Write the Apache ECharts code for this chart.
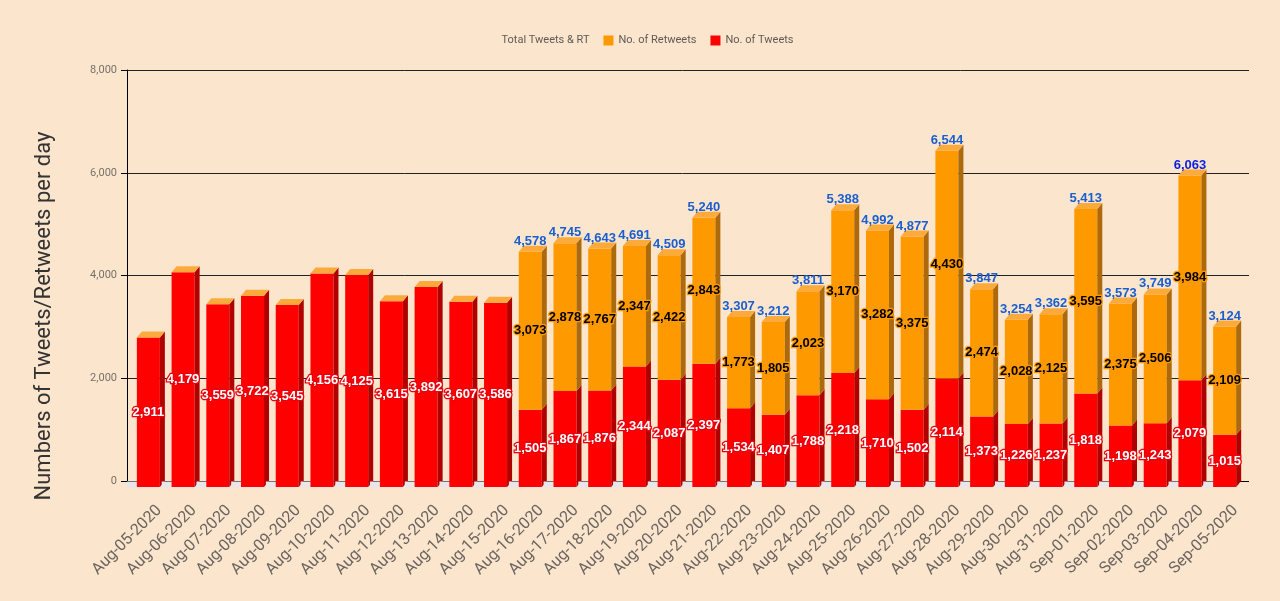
<!DOCTYPE html>
<html>
<head>
<meta charset="utf-8">
<script src="https://cdn.jsdelivr.net/npm/echarts@6/dist/echarts.min.js"></script>
<style>
html,body{margin:0;padding:0;background:#fce5cd;}
#chart{width:1280px;height:601px;}
</style>
</head>
<body>
<div id="chart"></div>
<script>
const categories = ['Aug-05-2020','Aug-06-2020','Aug-07-2020','Aug-08-2020','Aug-09-2020','Aug-10-2020','Aug-11-2020','Aug-12-2020','Aug-13-2020','Aug-14-2020','Aug-15-2020','Aug-16-2020','Aug-17-2020','Aug-18-2020','Aug-19-2020','Aug-20-2020','Aug-21-2020','Aug-22-2020','Aug-23-2020','Aug-24-2020','Aug-25-2020','Aug-26-2020','Aug-27-2020','Aug-28-2020','Aug-29-2020','Aug-30-2020','Aug-31-2020','Sep-01-2020','Sep-02-2020','Sep-03-2020','Sep-04-2020','Sep-05-2020'];
const tweets = [2911,4179,3559,3722,3545,4156,4125,3615,3892,3607,3586,1505,1867,1876,2344,2087,2397,1534,1407,1788,2218,1710,1502,2114,1373,1226,1237,1818,1198,1243,2079,1015];
const retweets = [0,0,0,0,0,0,0,0,0,0,0,3073,2878,2767,2347,2422,2843,1773,1805,2023,3170,3282,3375,4430,2474,2028,2125,3595,2375,2506,3984,2109];
const totals = [null,null,null,null,null,null,null,null,null,null,null,4578,4745,4643,4691,4509,5240,3307,3212,3811,5388,4992,4877,6544,3847,3254,3362,5413,3573,3749,6063,3124];
const yTicks = [0, 2000, 4000, 6000, 8000];
const highlightedTotal = 'Sep-04-2020';

const DX = 5, DY = 6, GRID_EXT = 11;
const RED = '#ff0000', RED_SIDE = '#b00000';
const ORANGE = '#ff9900', ORANGE_SIDE = '#ad6a0c', ORANGE_TOP = '#fcaa3c';
const LABEL_FONT = 'bold 13px "Liberation Sans", Arial, sans-serif';
const XLABEL_FONT = '16px Roboto';
const XLABEL_OFF = [15, 27];

function geom(api, idx) {
  const base = api.coord([idx, 0]);
  const b = api.size([1, 0])[0];
  const x0 = base[0] - 0.216 * b;
  const w = 0.663 * b;
  return {base, b, x0, w};
}

function fmt(n){ return n.toLocaleString('en-US'); }
function snap(y){ const d = Math.round(y * 2); return (d + 1) % 2 === 0 ? d / 2 : (d + 1) / 2; }

const tweetData = tweets.map((v, i) => [i, v]);
const rtData = retweets.map((v, i) => [i, tweets[i], tweets[i] + v, v]);
const totalData = totals.map((v, i) => [i, v == null ? '-' : v]);

const chart = echarts.init(document.getElementById('chart'));
chart.setOption({
  backgroundColor: '#fce5cd',
  animation: false,
  textStyle: {fontFamily: 'Roboto, sans-serif'},
  legend: {
    top: 30, left: 'center',
    itemWidth: 10, itemHeight: 10, itemGap: 14,
    textStyle: {color: '#5f5a55', fontSize: 11, fontFamily: 'Roboto'},
    data: [
      {name: 'Total Tweets & RT', itemStyle: {opacity: 0}},
      {name: 'No. of Retweets', icon: 'rect'},
      {name: 'No. of Tweets', icon: 'rect'}
    ]
  },
  grid: {left: 127, right: 42, top: 70, bottom: 120},
  xAxis: {
    type: 'category', data: categories,
    axisLine: {show: true, lineStyle: {color: '#000', width: 1}},
    axisTick: {show: false},
    axisLabel: {show: false}
  },
  yAxis: {
    type: 'value', min: yTicks[0], max: yTicks[yTicks.length - 1], interval: yTicks[1] - yTicks[0],
    axisLine: {show: true, lineStyle: {color: '#000'}},
    axisTick: {show: true, length: 6, lineStyle: {color: '#000'}},
    axisLabel: {color: '#77716b', fontSize: 11, fontFamily: 'Roboto', margin: 10,
      formatter: v => fmt(v)},
    splitLine: {lineStyle: {color: '#222', width: 1}}
  },
  graphic: [{
    type: 'text', x: 44, y: 316, rotation: Math.PI / 2,
    style: {text: 'Numbers of Tweets/Retweets per day', fill: '#333', font: '22px Roboto', textAlign: 'center', textVerticalAlign: 'middle'}
  }],
  series: [
    {
      name: 'No. of Tweets', type: 'custom', clip: false, z: 3,
      itemStyle: {color: RED},
      data: tweetData,
      renderItem: function (params, api) {
        const i = api.value(0), v = api.value(1);
        const g = geom(api, i);
        const top = api.coord([i, v]);
        const yb = g.base[1], yt = top[1];
        const ch = [
          {type: 'rect', shape: {x: g.base[0] - g.b / 2, y: yb + 0.5, width: g.b, height: DY}, style: {fill: '#e9e6ea'}},
          {type: 'rect', shape: {x: g.x0, y: yt + DY, width: g.w, height: yb - yt}, style: {fill: RED}},
          {type: 'polygon', shape: {points: [[g.x0 + g.w, yt + DY], [g.x0 + g.w + DX, yt], [g.x0 + g.w + DX, yb], [g.x0 + g.w, yb + DY]]}, style: {fill: RED_SIDE}},
          {type: 'text', z2: 10, style: {x: g.x0 + g.w / 2, y: (yt + yb) / 2 + DY, text: fmt(v), font: LABEL_FONT, fill: '#fff', stroke: '#e8000b', lineWidth: 2.5, textAlign: 'center', textVerticalAlign: 'middle'}},
          {type: 'text', x: g.base[0] + XLABEL_OFF[0], y: yb + XLABEL_OFF[1], rotation: Math.PI / 4,
            style: {text: categories[i], font: XLABEL_FONT, fill: '#6b6560', textAlign: 'right', textVerticalAlign: 'middle'}}
        ];
        if (i === categories.length - 1) {
          const xr = g.base[0] + g.b / 2;
          yTicks.forEach(t => {
            const y = snap(api.coord([i, t])[1]);
            ch.push({type: 'line', z2: -1, shape: {x1: xr - 1, y1: y, x2: xr + GRID_EXT, y2: y}, style: {stroke: t === 0 ? '#000' : '#222', lineWidth: 1}});
          });
        }
        return {type: 'group', children: ch};
      }
    },
    {
      name: 'No. of Retweets', type: 'custom', clip: false, z: 4,
      itemStyle: {color: ORANGE},
      data: rtData,
      renderItem: function (params, api) {
        const i = api.value(0), lo = api.value(1), hi = api.value(2), rv = api.value(3);
        const g = geom(api, i);
        const pl = api.coord([i, lo])[1], ph = api.coord([i, hi])[1];
        const ch = [
          {type: 'rect', shape: {x: g.x0, y: ph + DY, width: g.w, height: pl - ph}, style: {fill: ORANGE}},
          {type: 'polygon', shape: {points: [[g.x0 + g.w, ph + DY], [g.x0 + g.w + DX, ph], [g.x0 + g.w + DX, pl], [g.x0 + g.w, pl + DY]]}, style: {fill: ORANGE_SIDE}},
          {type: 'polygon', shape: {points: [[g.x0, ph + DY], [g.x0 + DX, ph], [g.x0 + g.w + DX, ph], [g.x0 + g.w, ph + DY]]}, style: {fill: ORANGE_TOP}}
        ];
        if (rv > 0) {
          ch.push({type: 'text', z2: 10, style: {x: g.x0 + g.w / 2, y: (pl + ph) / 2 + DY, text: fmt(rv), font: LABEL_FONT, fill: '#000', stroke: '#ff9900', lineWidth: 2.5, textAlign: 'center', textVerticalAlign: 'middle'}});
        }
        return {type: 'group', children: ch};
      }
    },
    {
      name: 'Total Tweets & RT', type: 'custom', clip: false, z: 5,
      itemStyle: {color: '#1a5fd0'},
      data: totalData,
      renderItem: function (params, api) {
        const i = api.value(0), t = api.value(1);
        if (isNaN(t)) return null;
        const g = geom(api, i);
        const ph = api.coord([i, t])[1];
        const hl = categories[i] === highlightedTotal;
        return {type: 'text', z2: 10, style: {x: g.x0 + g.w / 2, y: ph + 2, text: fmt(t),
          font: LABEL_FONT, fill: hl ? '#0a1ee6' : '#1a5fd0',
          textAlign: 'center', textVerticalAlign: 'bottom'}};
      }
    }
  ]
});
</script>
</body>
</html>
